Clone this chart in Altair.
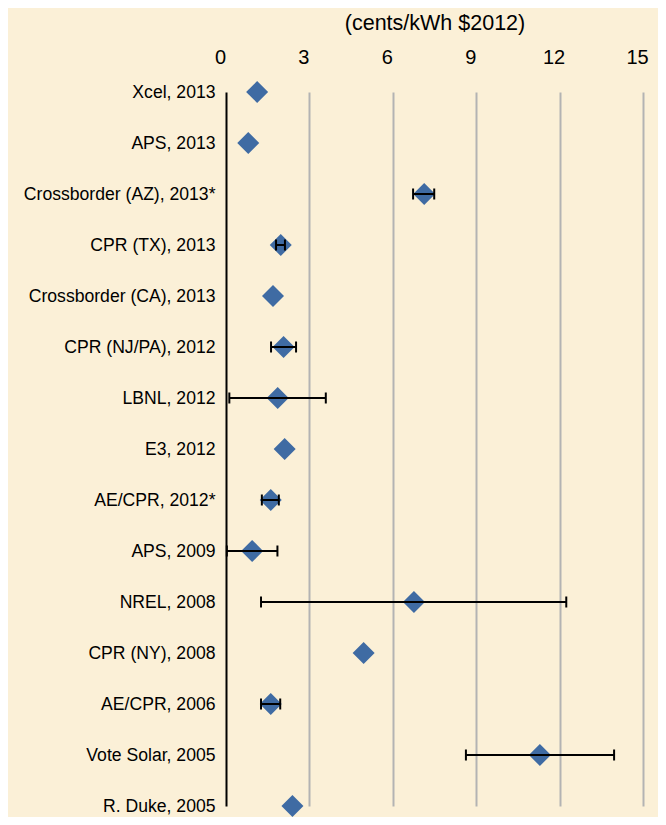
import altair as alt
import pandas as pd

labels = ["Xcel, 2013", "APS, 2013", "Crossborder (AZ), 2013*", "CPR (TX), 2013",
          "Crossborder (CA), 2013", "CPR (NJ/PA), 2012", "LBNL, 2012", "E3, 2012",
          "AE/CPR, 2012*", "APS, 2009", "NREL, 2008", "CPR (NY), 2008",
          "AE/CPR, 2006", "Vote Solar, 2005", "R. Duke, 2005"]
values = [1.12, 0.80, 7.13, 1.97, 1.69, 2.07, 1.86, 2.11, 1.61, 0.94, 6.76, 4.95, 1.61, 11.29, 2.39]
low = [None, None, 6.73, 1.80, None, 1.62, 0.12, None, 1.29, 0.03, 1.26, None, 1.26, 8.63, None]
high = [None, None, 7.49, 2.12, None, 2.52, 3.59, None, 1.90, 1.85, 12.24, None, 1.95, 13.96, None]
ticks = [0, 3, 6, 9, 12, 15]

df = pd.DataFrame({"label": labels, "value": values, "low": low, "high": high})
err = df.dropna()

FONT = "Liberation Sans"

yenc = alt.Y("label:N", sort=labels,
             scale=alt.Scale(type="point", padding=0, range=[3, 717]),
             axis=alt.Axis(title=None, domain=False, ticks=False, labelPadding=11,
                           labelFontSize=17.6, labelColor="black", labelFont=FONT,
                           labelLimit=300, grid=False))

xscale = alt.Scale(domain=[0, 15], nice=False, zero=True)

points = alt.Chart(df).mark_point(shape="diamond", size=484, filled=True,
                                  color="#3F6BA3", opacity=1).encode(
    x=alt.X("value:Q", scale=xscale,
            axis=alt.Axis(orient="top", values=ticks, title="(cents/kWh $2012)",
                          grid=True,
                          gridColor={"condition": {"test": "datum.value === 0", "value": "black"},
                                     "value": "#b3b3b3"},
                          gridWidth=2, domain=False, ticks=False,
                          labelPadding=22, labelFontSize=20, labelOffset=-6,
                          labelFlush=False,
                          labelColor="black", labelFont=FONT,
                          titleFontSize=21.5, titleFont=FONT, titleColor="black",
                          titleFontWeight="normal", titlePadding=13)),
    y=yenc,
)

bars = alt.Chart(err).mark_rule(color="black", strokeWidth=2).encode(
    x=alt.X("low:Q", scale=xscale), x2="high:Q", y=yenc)
cap_lo = alt.Chart(err).mark_tick(color="black", thickness=2, size=11, opacity=1).encode(
    x=alt.X("low:Q", scale=xscale), y=yenc)
cap_hi = alt.Chart(err).mark_tick(color="black", thickness=2, size=11, opacity=1).encode(
    x=alt.X("high:Q", scale=xscale), y=yenc)

chart = alt.layer(points, bars, cap_lo, cap_hi).properties(
    width=417, height=728,
    autosize=alt.AutoSizeParams(type="none"),
    padding={"left": 218, "top": 81, "right": 15, "bottom": 0},
).configure(background="#FBF0D7").configure_view(stroke=None)

chart.save("out.html", embed_options={"renderer": "svg", "actions": False})
